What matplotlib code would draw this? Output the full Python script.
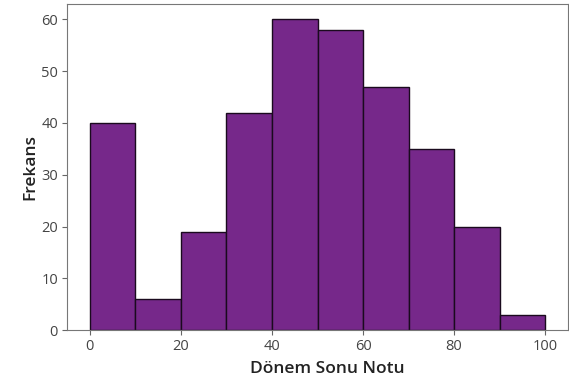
import matplotlib
matplotlib.use("Agg")
import matplotlib.pyplot as plt
import numpy as np

bin_edges = [0, 10, 20, 30, 40, 50, 60, 70, 80, 90, 100]
counts = [40, 6, 19, 42, 60, 58, 47, 35, 20, 3]
x_label = "Dönem Sonu Notu"
y_label = "Frekans"

plt.rcParams['font.family'] = ['Open Sans', 'DejaVu Sans']

fig = plt.figure(figsize=(5.69, 3.83), dpi=100)
ax = fig.add_axes([0.118, 0.138, 0.880, 0.852])

centers = [(a + b) / 2 for a, b in zip(bin_edges[:-1], bin_edges[1:])]
ax.hist(centers, bins=bin_edges, weights=counts, color="#76288A",
        edgecolor="#1a0a1e", linewidth=1.0)

ax.set_xticks([0, 20, 40, 60, 80, 100])
ax.set_yticks([0, 10, 20, 30, 40, 50, 60])
ax.tick_params(labelsize=10.5, colors="#666666", labelcolor="#444444", pad=3)
for s in ax.spines.values():
    s.set_color("#777777")

ax.set_xlabel(x_label, fontsize=12.5, fontweight="semibold", color="#222222",
              labelpad=0, family=['Open Sans', 'DejaVu Sans'])
ax.set_ylabel(y_label, fontsize=12.5, fontweight="semibold", color="#222222",
              labelpad=2, family=['Open Sans', 'DejaVu Sans'])
ax.xaxis.set_label_coords(0.52, -0.095)

fig.savefig("out.png", dpi=100)
